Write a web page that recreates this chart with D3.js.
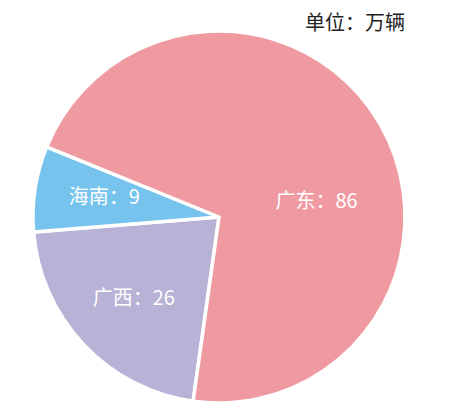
<!DOCTYPE html>
<html>
<head>
<meta charset="utf-8">
<script src="https://cdn.jsdelivr.net/npm/d3@7"></script>
<style>
  html, body { margin: 0; padding: 0; background: #fff; }
  text { font-family: "Noto Sans CJK SC", "Noto Sans", sans-serif; }
</style>
</head>
<body>
<svg id="chart" width="450" height="418"></svg>
<script>
// данные
const regions = ["广西", "海南", "广东"];
const sales = [26, 9, 86];
const unitLabel = "单位：万辆";

const colors = ["#b8b2d6", "#76c4ee", "#ef9aa0"];

const width = 450, height = 418;
const cx = 219, cy = 217, radius = 186;

const svg = d3.select("#chart");

// заголовок единиц
svg.append("text")
  .attr("x", 355)
  .attr("y", 30)
  .attr("text-anchor", "middle")
  .attr("font-size", 20)
  .attr("fill", "#222")
  .text(unitLabel);

const items = regions.map((r, i) => ({ name: r, value: sales[i], color: colors[i] }));

const pie = d3.pie()
  .value(d => d.value)
  .sort(null)
  .startAngle(Math.PI * 188 / 180)
  .endAngle(Math.PI * 188 / 180 + 2 * Math.PI);

const arc = d3.arc().innerRadius(0).outerRadius(radius);
const labelArc = d3.arc().innerRadius(radius * 0.63).outerRadius(radius * 0.63);

const g = svg.append("g").attr("transform", `translate(${cx},${cy})`);

const slices = g.selectAll("g.slice")
  .data(pie(items))
  .enter()
  .append("g")
  .classed("slice", true);

slices.append("path")
  .attr("d", arc)
  .attr("fill", d => d.data.color)
  .attr("stroke", "#fff")
  .attr("stroke-width", 3.5)
  .attr("stroke-linejoin", "miter");

// подпись большого сектора смещена ниже центроида
const nudge = { "广东": [-4, 42], "海南": [1, -2], "广西": [0, 0] };

slices.append("text")
  .attr("transform", d => {
    const c = labelArc.centroid(d);
    const n = nudge[d.data.name] || [0, 0];
    return `translate(${c[0] + n[0]},${c[1] + n[1]})`;
  })
  .attr("text-anchor", "middle")
  .attr("dy", "0.36em")
  .attr("font-size", 20)
  .attr("fill", "#fff")
  .text(d => `${d.data.name}：${d.data.value}`);
</script>
</body>
</html>
